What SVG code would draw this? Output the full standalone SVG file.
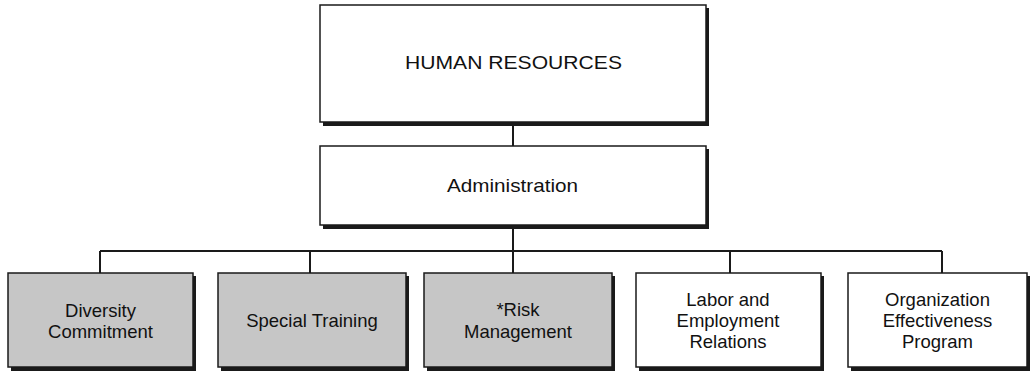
<svg xmlns="http://www.w3.org/2000/svg" width="1030" height="374" viewBox="0 0 1030 374">
<style>
.box{fill:#ffffff;stroke:#1a1a1a;stroke-width:1.5}
.grey{fill:#c6c6c6}
.shadow{fill:#1a1a1a}
.t{font-family:"Liberation Sans",Arial,sans-serif;font-size:18.5px;fill:#111;text-anchor:middle}
.conn{stroke:#1a1a1a;stroke-width:2;fill:none}
</style>
<rect width="1030" height="374" fill="#ffffff"/>
<g id="connectors">
<line class="conn" x1="513" y1="122" x2="513" y2="146"/>
<line class="conn" x1="513" y1="225" x2="513" y2="273"/>
<line class="conn" x1="100" y1="251" x2="942" y2="251"/>
<line class="conn" x1="100" y1="251" x2="100" y2="273"/>
<line class="conn" x1="310" y1="251" x2="310" y2="273"/>
<line class="conn" x1="730" y1="251" x2="730" y2="273"/>
<line class="conn" x1="942" y1="251" x2="942" y2="273"/>
</g>
<g id="human-resources">
<rect class="shadow" x="323" y="8" width="386" height="118"/>
<rect class="box" x="320" y="5" width="386" height="117"/>
<text class="t" x="513.5" y="69" textLength="217" lengthAdjust="spacingAndGlyphs">HUMAN RESOURCES</text>
</g>
<g id="administration">
<rect class="shadow" x="323" y="149" width="386" height="80"/>
<rect class="box" x="320" y="146" width="386" height="79"/>
<text class="t" x="512.5" y="192" textLength="131" lengthAdjust="spacingAndGlyphs">Administration</text>
</g>
<g id="diversity-commitment">
<rect class="shadow" x="11" y="276" width="185" height="95"/>
<rect class="box grey" x="8" y="273" width="185" height="94"/>
<text class="t" x="100.5" y="317">Diversity</text>
<text class="t" x="100.5" y="338">Commitment</text>
</g>
<g id="special-training">
<rect class="shadow" x="221" y="276" width="188" height="95"/>
<rect class="box grey" x="218" y="273" width="188" height="94"/>
<text class="t" x="312" y="327">Special Training</text>
</g>
<g id="risk-management">
<rect class="shadow" x="427" y="276" width="188" height="95"/>
<rect class="box grey" x="424" y="273" width="188" height="94"/>
<text class="t" x="518" y="316">*Risk</text>
<text class="t" x="518" y="338">Management</text>
</g>
<g id="labor-employment-relations">
<rect class="shadow" x="639" y="276" width="185" height="95"/>
<rect class="box" x="636" y="273" width="185" height="94"/>
<text class="t" x="728" y="306">Labor and</text>
<text class="t" x="728" y="327">Employment</text>
<text class="t" x="728" y="348">Relations</text>
</g>
<g id="organization-effectiveness-program">
<rect class="shadow" x="851" y="276" width="179" height="95"/>
<rect class="box" x="848" y="273" width="179" height="94"/>
<text class="t" x="937.5" y="306">Organization</text>
<text class="t" x="937.5" y="327">Effectiveness</text>
<text class="t" x="937.5" y="348">Program</text>
</g>
</svg>
